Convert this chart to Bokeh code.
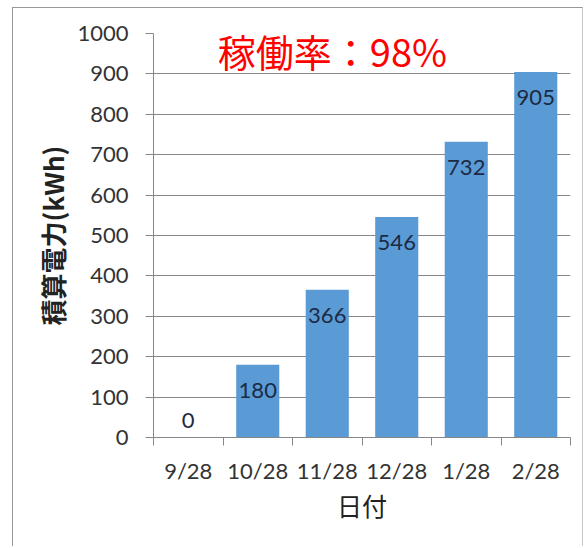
from bokeh.plotting import figure
from bokeh.models import ColumnDataSource, FixedTicker, Label, Range1d
from bokeh.core.properties import value
from bokeh.embed import file_html
from bokeh.resources import INLINE

categories = ["9/28", "10/28", "11/28", "12/28", "1/28", "2/28"]
energy_kwh = [0, 180, 366, 546, 732, 905]
y_ticks = [0, 100, 200, 300, 400, 500, 600, 700, 800, 900, 1000]
title_text = "稼働率：98%"
y_label = "積算電力(kWh)"
x_label = "日付"

xs = [i + 0.5 for i in range(len(categories))]
offsets = [26 if v > 0 else -17 for v in energy_kwh]
src = ColumnDataSource(dict(x=xs, y=energy_kwh, lab=[str(v) for v in energy_kwh], off=offsets))

p = figure(width=571, height=539, output_backend="svg", toolbar_location=None,
           x_range=Range1d(0, len(categories)), y_range=Range1d(0, 1000),
           min_border_left=140, min_border_right=14, min_border_top=25, min_border_bottom=110)
p.styles = {"border-left": "1px solid #999999", "border-top": "1px solid #999999",
            "border-right": "1px solid #c8c8c8", "margin-left": "12px", "margin-top": "7px"}
p.outline_line_color = None
p.background_fill_color = "white"
p.border_fill_color = "white"

p.vbar(x="x", top="y", width=0.62, bottom=0, source=src, fill_color="#5B9BD5", line_color=None)
p.text(x="x", y="y", text="lab", y_offset="off", source=src, text_align="center",
       text_baseline="middle", text_font=value("Lato"), text_font_size="22px", text_color="#1c2a44")

grid_gray = "#878787"
p.xgrid.visible = False
p.ygrid.grid_line_color = grid_gray
p.ygrid.ticker = FixedTicker(ticks=y_ticks)

ya = p.yaxis[0]
ya.ticker = FixedTicker(ticks=y_ticks)
ya.axis_line_color = grid_gray
ya.major_tick_line_color = grid_gray
ya.major_tick_out = 8
ya.major_tick_in = 0
ya.minor_tick_line_color = None
ya.major_label_standoff = 17
ya.major_label_text_font = "Lato"
ya.major_label_text_font_size = "22px"
ya.major_label_text_color = "#333333"
ya.axis_label = y_label
ya.axis_label_text_font = "Noto Sans CJK JP"
ya.axis_label_text_font_style = "bold"
ya.axis_label_text_font_size = "26px"
ya.axis_label_text_color = "#222222"
ya.axis_label_standoff = 3

xa = p.xaxis[0]
xa.ticker = FixedTicker(ticks=xs, minor_ticks=list(range(len(categories) + 1)))
xa.major_label_overrides = {x: c for x, c in zip(xs, categories)}
xa.axis_line_color = grid_gray
xa.major_tick_out = 0
xa.major_tick_in = 0
xa.minor_tick_line_color = grid_gray
xa.minor_tick_out = 8
xa.minor_tick_in = 0
xa.major_label_standoff = 11
xa.major_label_text_font = "Lato"
xa.major_label_text_font_size = "22px"
xa.major_label_text_color = "#333333"
xa.axis_label = x_label
xa.axis_label_text_font = "Noto Sans CJK JP"
xa.axis_label_text_font_style = "normal"
xa.axis_label_text_font_size = "25px"
xa.axis_label_text_color = "#222222"
xa.axis_label_standoff = 0

p.add_layout(Label(x=0.925, y=958, text=title_text,
                   text_font="Noto Sans CJK JP", text_font_size="38px", text_color="#FF0000",
                   text_baseline="middle", text_align="left"))

open("out.html", "w").write(file_html(p, INLINE))
